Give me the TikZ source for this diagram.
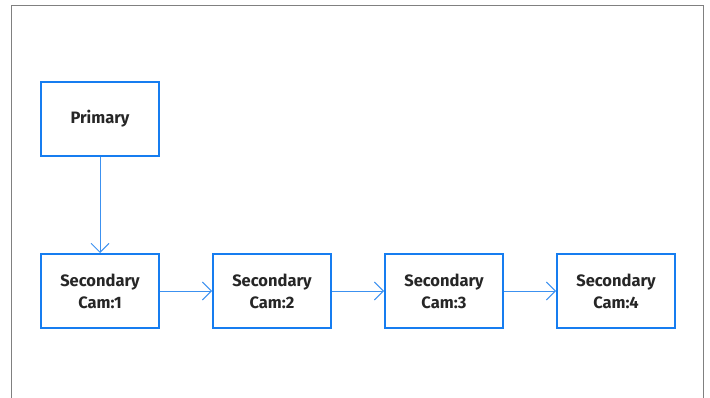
\documentclass[tikz,border=0pt]{standalone}
\usepackage{fontspec}
\setsansfont{Fira Sans}
\usetikzlibrary{arrows.meta,positioning}
\definecolor{boxblue}{RGB}{22,125,240}
\definecolor{lineblue}{RGB}{60,145,240}
\definecolor{framegray}{RGB}{128,128,128}

\begin{document}
\begin{tikzpicture}[
    x=1pt, y=-1pt,
    >={Straight Barb[length=9pt,width=18pt]},
    cam/.style  = {draw=boxblue, line width=2pt, minimum width=118pt, minimum height=74pt,
                   align=center, font=\sffamily\bfseries\fontsize{16.5}{22}\selectfont,
                   text=black!85, inner sep=0pt},
    link/.style = {->, draw=lineblue, line width=0.9pt},
  ]

	\useasboundingbox (0,0) rectangle (710,398);

	% Rahmen (unten offen)
	\draw[framegray, line width=1pt] (11,400) -- (11,6) -- (703,6) -- (703,400);

	% Kameras
	\node[cam] (P)  at (100,119) {Primary};
	\node[cam] (S1) at (100,291) {Secondary\\Cam:1};
	\node[cam] (S2) at (272,291) {Secondary\\Cam:2};
	\node[cam] (S3) at (444,291) {Secondary\\Cam:3};
	\node[cam] (S4) at (616,291) {Secondary\\Cam:4};

	% Verbindungen
	\draw[link] (P) -- (S1);
	\draw[link] (S1) -- (S2);
	\draw[link] (S2) -- (S3);
	\draw[link] (S3) -- (S4);

\end{tikzpicture}
\end{document}
